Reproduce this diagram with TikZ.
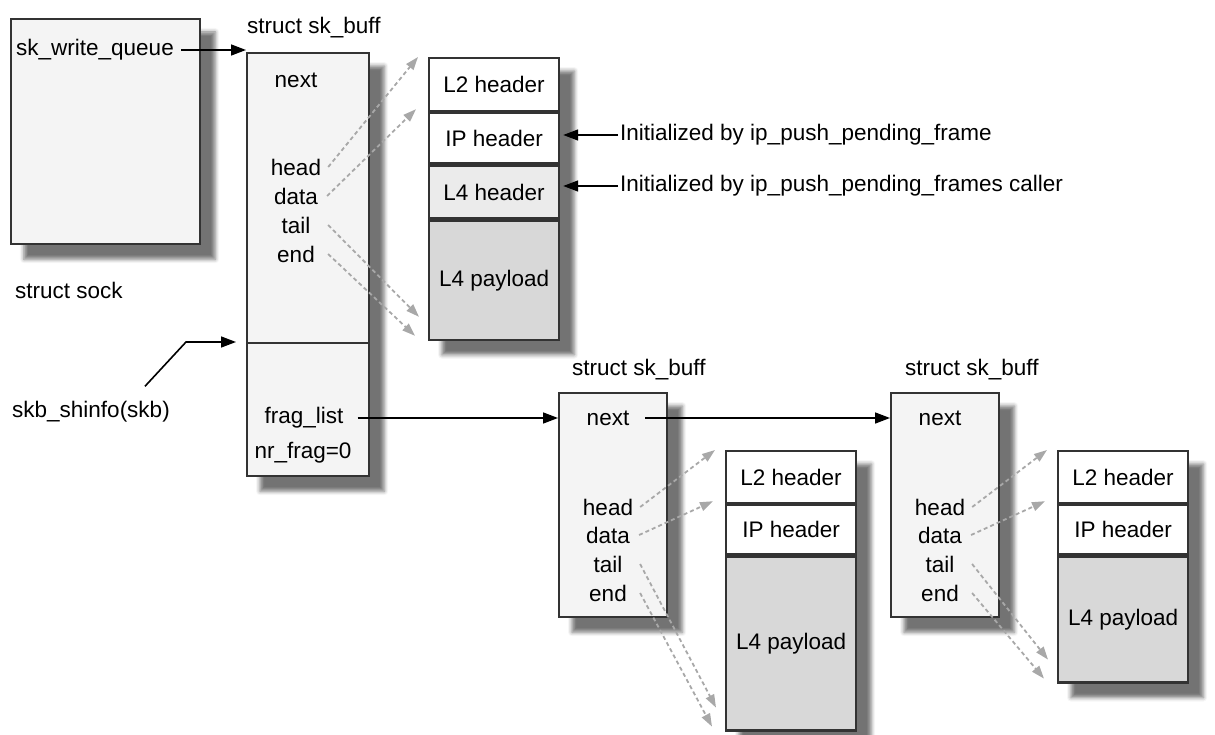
\documentclass[tikz,border=0pt]{standalone}
\usepackage{fontspec}
\setmainfont{Liberation Sans}
\usetikzlibrary{positioning,arrows.meta,fit,backgrounds,calc,shadows.blur}
\definecolor{boxfill}{HTML}{F4F4F4}
\definecolor{hdrfill}{HTML}{FFFFFF}
\definecolor{l4fill}{HTML}{EBEBEB}
\definecolor{payfill}{HTML}{D8D8D8}
\definecolor{boxedge}{HTML}{333333}
\definecolor{ptrgray}{HTML}{A8A8A8}

\begin{document}
\begin{tikzpicture}[
  x=1pt, y=-1pt,
  every node/.style={font=\fontsize{22.5}{27}\selectfont, inner sep=2pt},
  structbox/.style={draw=boxedge, line width=2.2pt, fill=boxfill, anchor=north west, inner sep=0pt},
  layerbox/.style={draw=boxedge, line width=2.2pt, anchor=north west, inner sep=0pt, minimum width=130pt},
  boxshadow/.style={fill=white, inner sep=0pt, blur shadow={shadow xshift=14pt, shadow yshift=-14pt, shadow blur radius=4pt, shadow opacity=55}},
  ptr/.style={line width=1.6pt, -{Triangle[length=15pt,width=11pt]}},
  dptr/.style={ptrgray, line width=1.8pt, dash pattern=on 4pt off 3pt, -{Triangle[length=13pt,width=9pt]}}
]
  \useasboundingbox (0,0) rectangle (1215,735);

  % struct sock
  \node[structbox, minimum width=189pt, minimum height=225pt] (sock) at (10,18) {};
  \node[anchor=west] (wq) at (14,50) {sk\_write\_queue};
  \node[anchor=west] (socklbl) at (13,290) {struct sock};

  % first sk_buff with its shared info
  \node[anchor=west] (skb1lbl) at (245,28) {struct sk\_buff};
  \node[structbox, minimum width=122pt, minimum height=290pt] (skb1) at (246,52) {};
  \node[structbox, minimum width=122pt, minimum height=133pt] (shinfo1) at (246,342) {};
  \node (next1) at (296,80) {next};
  \node (head1) at (296,167) {head};
  \node (data1) at (296,196) {data};
  \node (tail1) at (296,225) {tail};
  \node (end1)  at (296,254) {end};
  \node (frag1) at (304,418) {frag\_list};
  \node (nrfrag1) at (303,453) {nr\_frag=0};
  \node[anchor=west] (shinfo) at (10,412) {skb\_shinfo(skb)};
  \coordinate (bend) at (186,342);

  % first data buffer
  \node[layerbox, fill=hdrfill, minimum height=53pt] (l2a) at (428,57) {L2 header};
  \node[layerbox, fill=hdrfill, minimum height=50pt, below=0pt of l2a] (ipa) {IP header};
  \node[layerbox, fill=l4fill, minimum height=53pt, below=0pt of ipa] (l4a) {L4 header};
  \node[layerbox, fill=payfill, minimum height=119pt, below=0pt of l4a] (paya) {L4 payload};
  \node[anchor=west] (init1) at (618,135) {Initialized by ip\_push\_pending\_frame};
  \node[anchor=west] (init2) at (618,186) {Initialized by ip\_push\_pending\_frames caller};

  % second sk_buff
  \node[anchor=west] (skb2lbl) at (570,370) {struct sk\_buff};
  \node[structbox, minimum width=108pt, minimum height=224pt] (skb2) at (558,392) {};
  \node (next2) at (608,418) {next};
  \node (head2) at (608,507) {head};
  \node (data2) at (608,535) {data};
  \node (tail2) at (608,564) {tail};
  \node (end2)  at (608,593) {end};
  \node[layerbox, fill=hdrfill, minimum height=52pt] (l2b) at (725,450) {L2 header};
  \node[layerbox, fill=hdrfill, minimum height=49pt, below=0pt of l2b] (ipb) {IP header};
  \node[layerbox, fill=payfill, minimum height=174pt, below=0pt of ipb] (payb) {L4 payload};

  % third sk_buff
  \node[anchor=west] (skb3lbl) at (903,370) {struct sk\_buff};
  \node[structbox, minimum width=108pt, minimum height=224pt] (skb3) at (890,392) {};
  \node (next3) at (940,418) {next};
  \node (head3) at (940,507) {head};
  \node (data3) at (940,535) {data};
  \node (tail3) at (940,564) {tail};
  \node (end3)  at (940,593) {end};
  \node[layerbox, fill=hdrfill, minimum height=52pt] (l2c) at (1057,450) {L2 header};
  \node[layerbox, fill=hdrfill, minimum height=49pt, below=0pt of l2c] (ipc) {IP header};
  \node[layerbox, fill=payfill, minimum height=126pt, below=0pt of ipc] (payc) {L4 payload};

  % shadows
  \begin{scope}[on background layer]
    \foreach \a/\b in {sock/sock, skb1/shinfo1, skb2/skb2, skb3/skb3, l2a/paya, l2b/payb, l2c/payc}
      \node[boxshadow, fit=(\a)(\b)] {};
  \end{scope}

  % pointers
  \draw[ptr, shorten <=5pt] (wq.east) -- (wq.east -| skb1.west);
  \draw[ptr] ($(shinfo.north east)+(-27,-13)$) -- (bend) -- ([xshift=-10pt]shinfo1.north west);
  \draw[ptr, shorten <=12pt] (frag1.east) -- (frag1.east -| skb2.west);
  \draw[ptr, shorten <=14pt] (next2.east) -- (next2.east -| skb3.west);
  \draw[ptr, shorten >=3pt] (init1.west) -- (init1.west -| ipa.east);
  \draw[ptr, shorten >=3pt] (init2.west) -- (init2.west -| l4a.east);
  \foreach \s/\b in {1/a, 2/b, 3/c} {
    \draw[dptr] ([xshift=5pt]head\s.east) -- ([xshift=-10pt]l2\b.north west);
    \draw[dptr] ([xshift=7pt]data\s.east) -- ([xshift=-12pt,yshift=3pt]ip\b.north west);
    \draw[dptr] ([xshift=8pt]tail\s.east -| data\s.east) -- ([xshift=-9pt,yshift=24pt]pay\b.south west);
    \draw[dptr] ([xshift=8pt]end\s.east -| data\s.east) -- ([xshift=-13pt,yshift=5pt]pay\b.south west);
  }
\end{tikzpicture}
\end{document}
